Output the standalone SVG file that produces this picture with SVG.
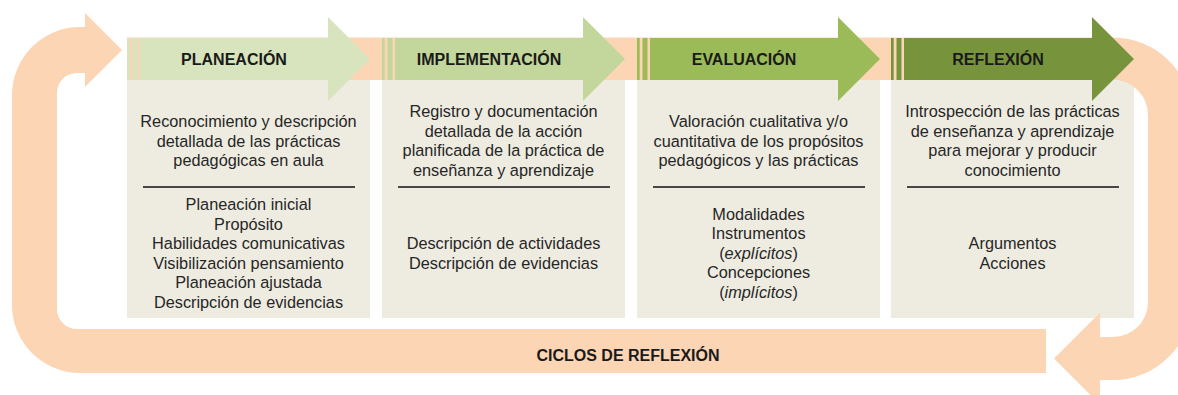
<svg xmlns="http://www.w3.org/2000/svg" xmlns:xlink="http://www.w3.org/1999/xlink" width="1178" height="395" viewBox="0 0 1178 395">
<style>
.loop{fill:#FCD5B5}
.box{fill:#EEECE1}
.t{font-family:"Liberation Sans",Arial,sans-serif;font-size:16.3px;fill:#262626;text-anchor:middle}
.h{font-size:16px;font-weight:bold;fill:#1A1A1A}
.div{stroke:#111;stroke-width:1.3}
</style>
<defs>
<path id="arrow" d="M0 38H2.7V80H0Z M5.5 38H10.5V80H5.5Z M13 38H201V17L243 59L201 101V80H13Z"/>
</defs>
<rect width="1178" height="395" fill="#FFFFFF"/>
<g id="connectors">
<path id="loop-left" class="loop" d="M1046 329H77A20 20 0 0 1 57 309V93A20 20 0 0 1 77 73H85V87L122 50L85 13V27H80A68 68 0 0 0 12 95V305A68 68 0 0 0 80 373H1046Z"/>
<path id="loop-right" class="loop" d="M127 37.5H1113A79 79 0 0 1 1192 116.5V301A79 79 0 0 1 1113 380H1100V404.5L1054 358.5L1100 312.5V337H1113A35 35 0 0 0 1148 302V115A35 35 0 0 0 1113 80H127Z"/>
<text class="t h" x="628" y="361">CICLOS DE REFLEXIÓN</text>
</g>
<g id="planeacion">
<rect class="box" x="127" y="80" width="243" height="238"/>
<use xlink:href="#arrow" href="#arrow" x="127" fill="#D7E4BD"/>
<text class="t h" x="234" y="64.5">PLANEACIÓN</text>
<text class="t"><tspan x="248.5" y="127">Reconocimiento y descripción</tspan><tspan x="248.5" y="146.5">detallada de las prácticas</tspan><tspan x="248.5" y="166">pedagógicas en aula</tspan></text>
<line class="div" x1="143" y1="187" x2="355" y2="187"/>
<text class="t"><tspan x="248.5" y="210">Planeación inicial</tspan><tspan x="248.5" y="229.6">Propósito</tspan><tspan x="248.5" y="249.2">Habilidades comunicativas</tspan><tspan x="248.5" y="268.8">Visibilización pensamiento</tspan><tspan x="248.5" y="288.4">Planeación ajustada</tspan><tspan x="248.5" y="308">Descripción de evidencias</tspan></text>
</g>
<g id="implementacion">
<rect class="box" x="382" y="80" width="243" height="238"/>
<use xlink:href="#arrow" href="#arrow" x="382" fill="#C3D69B"/>
<text class="t h" x="489" y="64.5">IMPLEMENTACIÓN</text>
<text class="t"><tspan x="503.5" y="117">Registro y documentación</tspan><tspan x="503.5" y="136.5">detallada de la acción</tspan><tspan x="503.5" y="156">planificada de la práctica de</tspan><tspan x="503.5" y="175.5">enseñanza y aprendizaje</tspan></text>
<line class="div" x1="398" y1="187" x2="610" y2="187"/>
<text class="t"><tspan x="503.5" y="249">Descripción de actividades</tspan><tspan x="503.5" y="268.5">Descripción de evidencias</tspan></text>
</g>
<g id="evaluacion">
<rect class="box" x="637" y="80" width="243" height="238"/>
<use xlink:href="#arrow" href="#arrow" x="637" fill="#9BBB59"/>
<text class="t h" x="744" y="64.5">EVALUACIÓN</text>
<text class="t"><tspan x="758.5" y="127">Valoración cualitativa y/o</tspan><tspan x="758.5" y="146.5">cuantitativa de los propósitos</tspan><tspan x="758.5" y="166">pedagógicos y las prácticas</tspan></text>
<line class="div" x1="653" y1="187" x2="865" y2="187"/>
<text class="t"><tspan x="758.5" y="219.5">Modalidades</tspan><tspan x="758.5" y="239">Instrumentos</tspan><tspan x="758.5" y="258.7">(<tspan font-style="italic">explícitos</tspan>)</tspan><tspan x="758.5" y="278.4">Concepciones</tspan><tspan x="758.5" y="298">(<tspan font-style="italic">implícitos</tspan>)</tspan></text>
</g>
<g id="reflexion">
<path class="box" d="M891 80H1113A35 35 0 0 1 1134 87V318H1100V312.5L1094.5 318H891Z"/>
<use xlink:href="#arrow" href="#arrow" x="891" fill="#77933C"/>
<text class="t h" x="998" y="64.5">REFLEXIÓN</text>
<text class="t"><tspan x="1012.5" y="117">Introspección de las prácticas</tspan><tspan x="1012.5" y="136.5">de enseñanza y aprendizaje</tspan><tspan x="1012.5" y="156">para mejorar y producir</tspan><tspan x="1012.5" y="175.5">conocimiento</tspan></text>
<line class="div" x1="907" y1="187" x2="1119" y2="187"/>
<text class="t"><tspan x="1012.5" y="249">Argumentos</tspan><tspan x="1012.5" y="268.5">Acciones</tspan></text>
</g>
</svg>
